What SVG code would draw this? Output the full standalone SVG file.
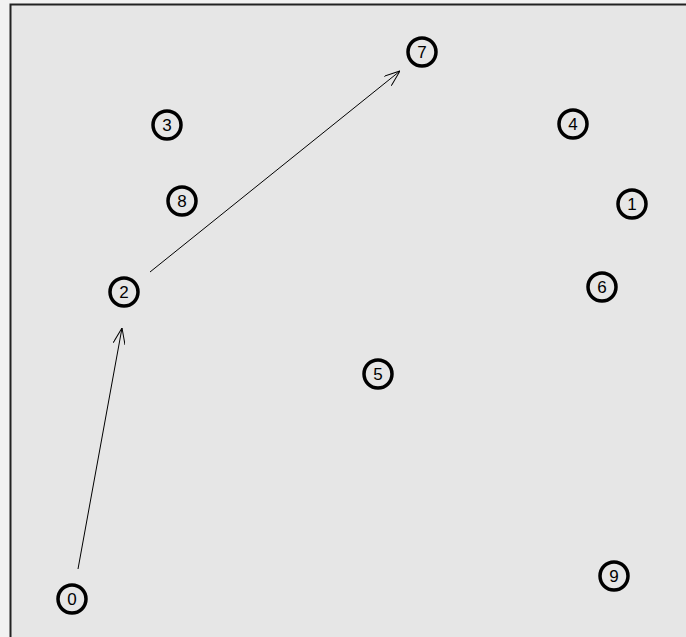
<svg xmlns="http://www.w3.org/2000/svg" width="686" height="637" viewBox="0 0 686 637">
<style>
.n circle{fill:none;stroke:#000;stroke-width:3.5}
.n text{font-family:"Liberation Sans","DejaVu Sans",sans-serif;font-size:17px;fill:#000;text-anchor:middle;dominant-baseline:central}
.e{stroke:#000;stroke-width:1;fill:none}
</style>
<defs>
<marker id="ah" viewBox="0 0 16 12" refX="16" refY="6" markerWidth="16" markerHeight="12" markerUnits="userSpaceOnUse" orient="auto">
<path d="M0,0 L16,6 L0,12" fill="none" stroke="#000" stroke-width="1"/>
</marker>
</defs>
<rect x="0" y="0" width="686" height="637" fill="#f2f2f2"/>
<rect x="10" y="4" width="676" height="633" fill="#e6e6e6"/>
<path d="M10.5,637 V4.5 H686" fill="none" stroke="#222" stroke-width="2"/>
<g id="edges">
<line class="e" x1="78" y1="569" x2="122" y2="328" marker-end="url(#ah)"/>
<line class="e" x1="150" y1="272" x2="400" y2="71" marker-end="url(#ah)"/>
</g>
<g id="node0" class="n"><circle cx="72" cy="599" r="14"/><text x="72" y="599">0</text></g>
<g id="node1" class="n"><circle cx="632" cy="204" r="14"/><text x="632" y="204">1</text></g>
<g id="node2" class="n"><circle cx="124" cy="292" r="14"/><text x="124" y="292">2</text></g>
<g id="node3" class="n"><circle cx="167" cy="125" r="14"/><text x="167" y="125">3</text></g>
<g id="node4" class="n"><circle cx="573" cy="124" r="14"/><text x="573" y="124">4</text></g>
<g id="node5" class="n"><circle cx="378" cy="374" r="14"/><text x="378" y="374">5</text></g>
<g id="node6" class="n"><circle cx="602" cy="287" r="14"/><text x="602" y="287">6</text></g>
<g id="node7" class="n"><circle cx="422" cy="52" r="14"/><text x="422" y="52">7</text></g>
<g id="node8" class="n"><circle cx="182" cy="201" r="14"/><text x="182" y="201">8</text></g>
<g id="node9" class="n"><circle cx="614" cy="576" r="14"/><text x="614" y="576">9</text></g>
</svg>
